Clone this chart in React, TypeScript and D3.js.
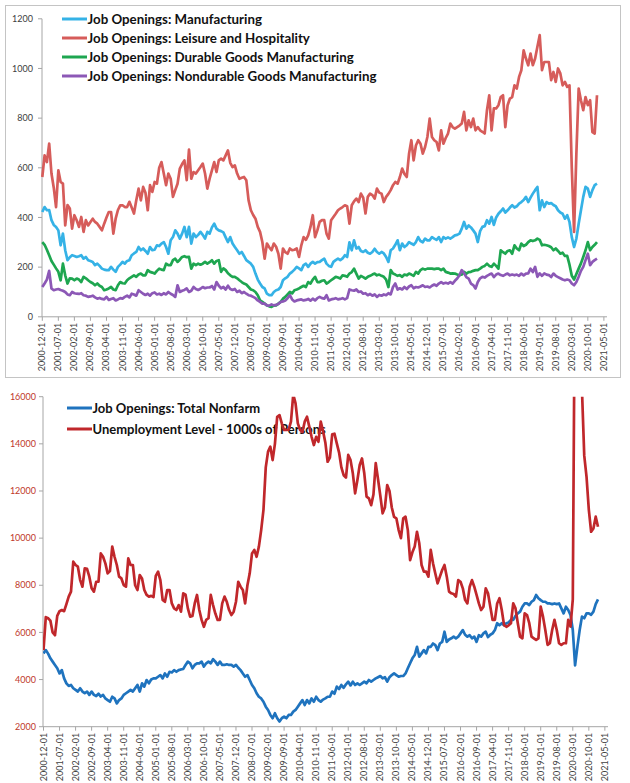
import React from "react";
import * as d3 from "d3";

// Category axis tick labels (every 7th month, from 2000-12 to 2021-05)
const X_LABELS = [
  "2000-12-01","2001-07-01","2002-02-01","2002-09-01","2003-04-01","2003-11-01",
  "2004-06-01","2005-01-01","2005-08-01","2006-03-01","2006-10-01","2007-05-01",
  "2007-12-01","2008-07-01","2009-02-01","2009-09-01","2010-04-01","2010-11-01",
  "2011-06-01","2012-01-01","2012-08-01","2013-03-01","2013-10-01","2014-05-01",
  "2014-12-01","2015-07-01","2016-02-01","2016-09-01","2017-04-01","2017-11-01",
  "2018-06-01","2019-01-01","2019-08-01","2020-03-01","2020-10-01","2021-05-01",
];
const TOP_Y_TICKS = [0, 200, 400, 600, 800, 1000, 1200];
const BOT_Y_TICKS = [2000, 4000, 6000, 8000, 10000, 12000, 14000, 16000];

// Monthly values, 2000-12 .. 2021-02 (thousands)
const MFG = [
  422,
  442, 429, 430, 389, 370, 362, 348, 288, 335, 268, 228, 240,
  248, 245, 241, 244, 248, 234, 241, 228, 225, 221, 208, 214,
  205, 194, 190, 188, 188, 201, 190, 181, 201, 210, 221, 214,
  225, 228, 248, 255, 261, 281, 268, 275, 265, 254, 281, 268,
  270, 288, 285, 295, 301, 281, 254, 308, 321, 348, 335, 315,
  335, 362, 321, 362, 295, 335, 321, 330, 342, 330, 315, 342,
  335, 360, 375, 355, 348, 345, 340, 320, 301, 321, 295, 281,
  268, 254, 261, 245, 228, 221, 214, 201, 174, 150, 134, 120,
  114, 93, 87, 87, 100, 107, 110, 120, 147, 155, 161, 174,
  181, 190, 201, 195, 188, 208, 214, 201, 214, 221, 214, 220,
  221, 228, 234, 214, 205, 201, 221, 228, 234, 228, 235, 248,
  241, 300, 268, 308, 275, 281, 265, 261, 268, 258, 254, 261,
  274, 261, 254, 261, 255, 241, 221, 268, 275, 290, 308, 268,
  295, 281, 288, 301, 295, 290, 301, 321, 305, 300, 315, 308,
  308, 321, 315, 310, 321, 301, 321, 315, 320, 315, 321, 328,
  330, 335, 355, 382, 355, 368, 360, 348, 335, 301, 345, 362,
  365, 389, 375, 402, 370, 400, 415, 425, 436, 420, 429, 440,
  449, 440, 445, 456, 462, 470, 483, 462, 480, 496, 510, 523,
  429, 469, 442, 462, 456, 458, 450, 445, 429, 420, 415, 395,
  409, 382, 321, 281, 315, 375, 429, 483, 523, 516, 483, 510,
  530, 536,
];

const LEISURE = [
  563,
  650, 623, 697, 577, 520, 442, 590, 543, 536, 368, 450, 436,
  355, 409, 389, 362, 402, 342, 389, 368, 382, 395, 382, 375,
  362, 348, 375, 400, 422, 422, 335, 395, 430, 449, 449, 442,
  442, 463, 440, 416, 469, 516, 469, 523, 500, 429, 530, 503,
  543, 536, 600, 623, 577, 530, 577, 556, 483, 510, 536, 597,
  615, 630, 550, 673, 556, 583, 577, 590, 603, 617, 577, 516,
  556, 590, 623, 583, 630, 637, 630, 650, 670, 620, 603, 610,
  577, 556, 560, 563, 550, 469, 429, 410, 395, 362, 342, 301,
  234, 295, 280, 268, 295, 282, 254, 194, 275, 260, 254, 275,
  268, 270, 275, 241, 288, 321, 310, 328, 362, 409, 321, 348,
  382, 389, 389, 335, 315, 389, 402, 415, 429, 436, 442, 449,
  445, 375, 449, 465, 476, 462, 496, 480, 416, 483, 496, 490,
  476, 516, 500, 496, 462, 483, 495, 510, 530, 543, 536, 563,
  597, 575, 563, 657, 711, 630, 690, 711, 697, 657, 684, 724,
  798, 724, 711, 704, 670, 751, 697, 720, 738, 778, 764, 758,
  764, 770, 778, 825, 751, 791, 764, 798, 751, 764, 751, 745,
  738, 832, 892, 751, 839, 839, 852, 885, 892, 764, 852, 879,
  885, 932, 919, 966, 993, 1073, 1040, 1013, 1060, 1013, 1040, 1087,
  1134, 993, 1026, 1026, 1026, 953, 986, 946, 1000, 980, 932, 946,
  926, 932, 600, 342, 657, 919, 872, 832, 885, 852, 872, 744,
  738, 892,
];

const DURABLE = [
  301,
  290, 270, 248, 225, 210, 195, 181, 147, 214, 167, 134, 155,
  154, 147, 154, 150, 140, 161, 155, 147, 140, 135, 127, 134,
  125, 120, 107, 110, 114, 120, 110, 107, 127, 140, 135, 134,
  147, 155, 161, 167, 161, 170, 174, 167, 167, 188, 181, 178,
  174, 185, 194, 190, 188, 214, 208, 208, 228, 234, 221, 230,
  241, 244, 240, 241, 194, 214, 208, 214, 210, 214, 221, 214,
  220, 228, 214, 225, 228, 181, 195, 188, 175, 167, 161, 161,
  155, 147, 140, 134, 130, 120, 110, 107, 100, 87, 66, 60,
  53, 46, 42, 40, 45, 46, 53, 60, 73, 80, 90, 100,
  94, 107, 110, 114, 120, 125, 120, 140, 134, 150, 161, 140,
  140, 145, 147, 134, 140, 147, 154, 161, 158, 154, 167, 165,
  161, 174, 180, 194, 174, 154, 165, 160, 154, 161, 165, 170,
  174, 167, 170, 165, 161, 150, 120, 188, 174, 170, 165, 168,
  161, 170, 167, 174, 170, 165, 181, 174, 188, 194, 190, 194,
  194, 194, 192, 194, 194, 188, 194, 181, 178, 174, 175, 174,
  170, 167, 170, 181, 174, 180, 181, 185, 188, 188, 194, 201,
  205, 214, 205, 201, 214, 205, 194, 268, 260, 254, 265, 268,
  254, 288, 275, 268, 295, 285, 290, 301, 308, 305, 308, 315,
  310, 288, 290, 288, 285, 280, 268, 275, 265, 254, 258, 245,
  245, 210, 165, 150, 172, 194, 215, 241, 268, 301, 268, 281,
  290, 301,
];

const NONDURABLE = [
  120,
  134, 150, 185, 114, 107, 110, 112, 108, 105, 100, 90, 87,
  100, 95, 93, 92, 95, 87, 85, 80, 82, 85, 78, 73,
  76, 72, 70, 80, 68, 72, 75, 66, 70, 75, 73, 80,
  85, 78, 93, 90, 85, 107, 100, 93, 88, 93, 85, 95,
  98, 90, 93, 88, 95, 90, 100, 93, 88, 80, 127, 100,
  105, 108, 114, 100, 105, 120, 112, 108, 113, 120, 115, 118,
  118, 124, 110, 140, 125, 115, 120, 110, 125, 112, 108, 112,
  100, 105, 95, 100, 93, 87, 85, 80, 75, 66, 60, 53,
  53, 46, 45, 50, 46, 48, 52, 60, 62, 66, 75, 87,
  70, 62, 66, 68, 70, 66, 68, 72, 65, 73, 66, 75,
  80, 75, 73, 87, 66, 70, 72, 75, 70, 72, 75, 70,
  75, 110, 107, 105, 110, 100, 102, 93, 95, 87, 92, 85,
  90, 80, 88, 85, 90, 87, 95, 90, 120, 134, 110, 115,
  110, 120, 112, 122, 127, 115, 120, 118, 122, 127, 120, 122,
  118, 125, 130, 125, 134, 140, 134, 137, 134, 140, 134, 145,
  154, 167, 188, 175, 160, 154, 134, 128, 114, 140, 155, 161,
  158, 165, 170, 174, 160, 170, 174, 168, 165, 170, 174, 167,
  170, 167, 170, 165, 174, 167, 174, 175, 194, 180, 201, 161,
  175, 165, 175, 170, 168, 160, 174, 165, 160, 155, 150, 147,
  150, 147, 134, 127, 140, 161, 185, 201, 228, 254, 208, 221,
  228, 234,
];

const TOTAL_NONFARM = [
  5110,
  5250, 5100, 4900, 4760, 4620, 4480, 4260, 4400, 4050, 3840, 3730, 3770,
  3630, 3560, 3490, 3630, 3490, 3420, 3490, 3350, 3490, 3350, 3300, 3400,
  3280, 3350, 3200, 3130, 3060, 3270, 3200, 2990, 3130, 3200, 3350, 3420,
  3490, 3560, 3490, 3630, 3770, 3490, 3840, 3700, 3980, 3840, 4000, 4050,
  4050, 4120, 4190, 4050, 4260, 4120, 4330, 4300, 4400, 4330, 4400, 4430,
  4450, 4620, 4760, 4690, 4480, 4620, 4690, 4690, 4760, 4550, 4690, 4760,
  4690, 4860, 4760, 4620, 4760, 4620, 4620, 4650, 4620, 4620, 4550, 4620,
  4500, 4400, 4260, 4120, 4190, 3980, 3770, 3630, 3420, 3270, 3200, 3060,
  2850, 2710, 2500, 2360, 2570, 2360, 2220, 2360, 2430, 2360, 2500, 2500,
  2640, 2710, 2850, 2990, 3130, 2920, 3130, 2990, 3200, 3060, 3270, 3130,
  3060, 3150, 3200, 3270, 3270, 3490, 3400, 3700, 3600, 3770, 3650, 3800,
  3910, 3750, 3910, 3770, 3840, 3770, 3840, 3910, 3840, 3980, 3910, 3980,
  4050, 4100, 4150, 4050, 4100, 3910, 4100, 4190, 4260, 4190, 4120, 4150,
  4150, 4260, 4480, 4690, 4900, 5040, 5390, 4970, 5110, 5250, 5110, 5390,
  5390, 5530, 5460, 5250, 5530, 5600, 6030, 5600, 5700, 5750, 5820, 5750,
  5820, 5960, 6100, 5900, 5820, 5880, 5750, 5820, 5600, 5880, 5820, 5960,
  6030, 5800, 5900, 5960, 6100, 6390, 6300, 6390, 6300, 6390, 6420, 6530,
  6530, 6700, 6810, 6880, 7090, 7230, 7230, 7160, 7300, 7370, 7590, 7450,
  7370, 7300, 7300, 7230, 7230, 7200, 7230, 7200, 7230, 7020, 6810, 7090,
  6950, 6740, 6100, 4600, 5390, 6100, 6670, 6600, 6810, 6810, 6750, 6880,
  7200, 7400,
];

const UNEMPLOYMENT = [
  5250,
  6650, 6600, 6500, 6000, 5880, 6700, 6900, 6950, 6900, 7200, 7520, 7730,
  9000, 8860, 8790, 8220, 7940, 8720, 8700, 8365, 7870, 7730, 8150, 8150,
  9350, 9210, 8930, 8505, 8600, 9640, 9210, 8860, 8365, 8290, 8010, 7940,
  9140, 8860, 8860, 8000, 7800, 8435, 8290, 7800, 7590, 7520, 7550, 7500,
  8400, 8575, 8220, 7380, 7300, 7800, 7800, 7230, 7020, 6950, 7160, 6880,
  7660, 7600, 7020, 6670, 6700, 7230, 7590, 6950, 6530, 6240, 6530, 6600,
  7590, 7160, 6800, 6530, 6530, 7230, 7520, 7300, 6950, 6740, 6880, 7300,
  8150, 7940, 7800, 7230, 8000, 8505, 9350, 9500, 9210, 9640, 10340, 11200,
  13000, 13670, 13880, 13310, 14000, 15150, 15220, 14870, 14590, 14590, 14600, 14940,
  16100, 15720, 14870, 14590, 14500, 14940, 15150, 14730, 14300, 13950, 14300, 14090,
  14940, 14540, 14060, 13240, 13420, 14400, 14430, 14020, 13630, 13000, 12670, 12570,
  13530, 13310, 12750, 11900, 12470, 13100, 13380, 12750, 11760, 11690, 11400, 11850,
  13180, 12500, 11800, 11050, 11300, 12250, 12000, 11300, 10900, 10840, 10340, 10000,
  10840, 10910, 10340, 9070, 9400, 9640, 10270, 9780, 8860, 8580, 8580, 8365,
  9500, 8930, 8500, 8080, 8365, 8650, 8860, 8365, 7730, 7660, 7630, 7520,
  8220, 8150, 7870, 7380, 7230, 7940, 8220, 7940, 7590, 7230, 6950, 7090,
  7870, 7660, 7090, 6530, 6530, 7230, 7450, 6950, 6310, 6240, 6300, 6390,
  7230, 7020, 6390, 5820, 5750, 6810, 6740, 6390, 5820, 5750, 5680, 5750,
  7090, 6670, 6100, 5470, 5540, 6100, 6530, 6100, 5540, 5470, 5540, 5540,
  6530, 6250, 7400, 22500, 20900, 17800, 16300, 13500, 12600, 11200, 10270, 10410,
  10910, 10480,
];

const TOP_SERIES = [
  { name: "Job Openings: Manufacturing", values: MFG, color: "#35b2e6" },
  { name: "Job Openings: Leisure and Hospitality", values: LEISURE, color: "#d65c5a" },
  { name: "Job Openings: Durable Goods Manufacturing", values: DURABLE, color: "#1ea650" },
  { name: "Job Openings: Nondurable Goods Manufacturing", values: NONDURABLE, color: "#8c58b6" },
];
const BOT_SERIES = [
  { name: "Job Openings: Total Nonfarm", values: TOTAL_NONFARM, color: "#1f73be" },
  { name: "Unemployment Level - 1000s of Persons", values: UNEMPLOYMENT, color: "#c0272b" },
];

const FONT = "Lato, 'Open Sans', sans-serif";
const AXIS = "#a6a6a6";

export default function App() {
  const lastIdx = MFG.length - 1;
  const xTop = d3.scaleLinear().domain([0, lastIdx]).range([42.3, 597]);
  const yTop = d3.scaleLinear().domain([0, 1200]).range([316.8, 18.8]);
  const xBot = d3.scaleLinear().domain([0, lastIdx]).range([43.5, 598]);
  const yBot = d3.scaleLinear().domain([2000, 16000]).range([726.7, 396.7]);

  const lineTop = d3.line<number>().x((_, i) => xTop(i)).y((d) => yTop(d));
  const lineBot = d3.line<number>().x((_, i) => xBot(i)).y((d) => yBot(d));

  const xAxis = (
    x: d3.ScaleLinear<number, number>,
    y0: number,
    x0: number,
    x1: number,
    key: string
  ) => (
    <g key={key}>
      <line x1={x0} x2={x1} y1={y0} y2={y0} stroke={AXIS} strokeWidth={1} />
      {X_LABELS.map((lab, k) => {
        const xp = x(k * 7);
        return (
          <g key={lab}>
            <line x1={xp} x2={xp} y1={y0} y2={y0 + 4} stroke={AXIS} strokeWidth={1} />
            <text
              transform={`translate(${xp + 3},${y0 + 6}) rotate(-90)`}
              textAnchor="end"
              fontSize={9}
              fontFamily={FONT}
              fill="#404040"
            >
              {lab}
            </text>
          </g>
        );
      })}
    </g>
  );

  return (
    <svg
      width={630}
      height={783}
      style={{ position: "absolute", left: 0, top: 0, background: "#fff" }}
    >
      <defs>
        <clipPath id="botClip">
          <rect x={43} y={396.7} width={570} height={330} />
        </clipPath>
      </defs>
      <rect x={0} y={0} width={630} height={783} fill="#fff" />

      {/* ---------- TOP CHART ---------- */}
      <rect x={5.5} y={5.5} width={615} height={372} fill="none" stroke="#c4c4c4" strokeWidth={1} />
      <line x1={42} x2={42} y1={yTop(1200)} y2={yTop(0)} stroke={AXIS} />
      {TOP_Y_TICKS.map((t) => (
        <g key={t}>
          <line x1={38} x2={42} y1={yTop(t)} y2={yTop(t)} stroke={AXIS} />
          <text x={33} y={yTop(t)} dy="0.35em" textAnchor="end" fontSize={9} fontFamily={FONT} fill="#404040">
            {t}
          </text>
        </g>
      ))}
      {xAxis(xTop, yTop(0), 42, 607, "xt")}

      {TOP_SERIES.map((s) => (
        <path key={s.name} d={lineTop(s.values) || ""} fill="none" stroke={s.color} strokeWidth={2.7} strokeLinejoin="round" />
      ))}

      {TOP_SERIES.map((s, k) => {
        const yy = 19 + k * 19;
        return (
          <g key={s.name + "-leg"}>
            <line x1={62} x2={87} y1={yy} y2={yy} stroke={s.color} strokeWidth={3} />
            <text x={87.5} y={yy} dy="0.36em" fontSize={13.3} fontWeight="bold" fontFamily={FONT} fill="#111">
              {s.name}
            </text>
          </g>
        );
      })}

      {/* ---------- BOTTOM CHART ---------- */}
      <line x1={43} x2={43} y1={yBot(16000)} y2={yBot(2000)} stroke={AXIS} />
      {BOT_Y_TICKS.map((t) => (
        <g key={t}>
          <line x1={39} x2={43} y1={yBot(t)} y2={yBot(t)} stroke={AXIS} />
          <text x={36} y={yBot(t)} dy="0.35em" textAnchor="end" fontSize={9} fontFamily={FONT} fill="#c0392b">
            {t}
          </text>
        </g>
      ))}
      {xAxis(xBot, yBot(2000), 43, 608, "xb")}

      {BOT_SERIES.map((s, k) => {
        const yy = 408 + k * 21;
        return (
          <g key={s.name + "-leg"}>
            <line x1={67} x2={92} y1={yy} y2={yy} stroke={s.color} strokeWidth={3} />
            <text x={92.5} y={yy} dy="0.36em" fontSize={13} fontWeight="bold" fontFamily={FONT} fill="#111">
              {s.name}
            </text>
          </g>
        );
      })}

      <g clipPath="url(#botClip)">
        {BOT_SERIES.map((s) => (
          <path key={s.name} d={lineBot(s.values) || ""} fill="none" stroke={s.color} strokeWidth={2.7} strokeLinejoin="round" />
        ))}
      </g>
    </svg>
  );
}
